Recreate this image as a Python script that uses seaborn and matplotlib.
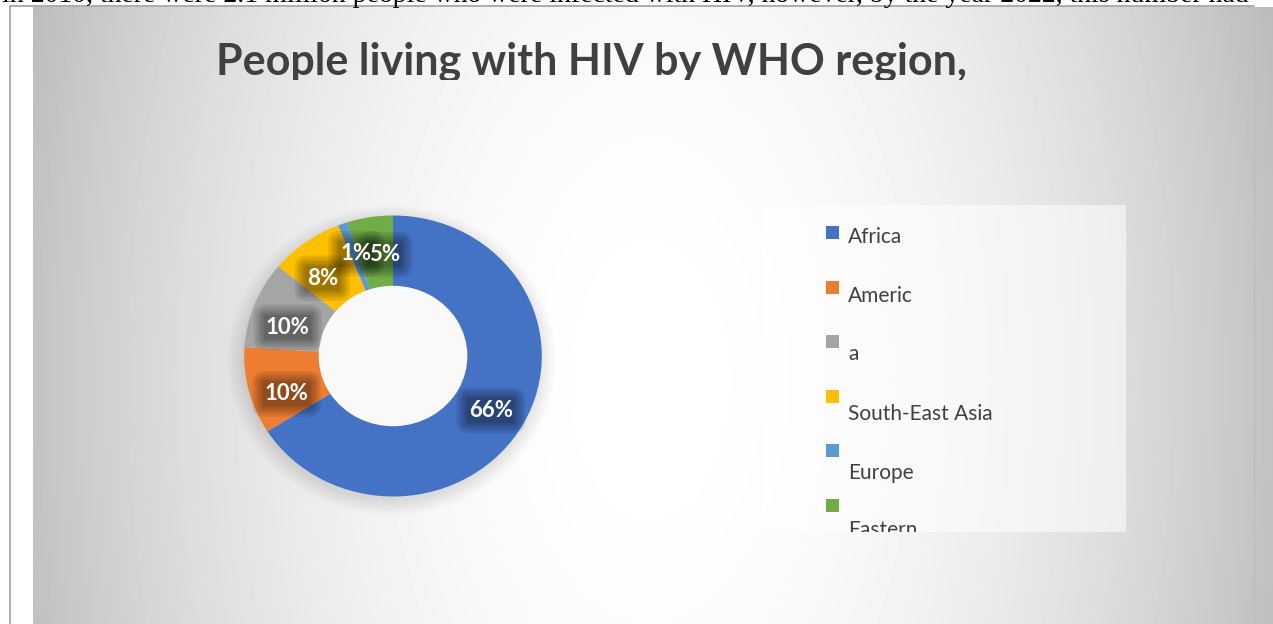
import numpy as np
import matplotlib
matplotlib.use("Agg")
import matplotlib.pyplot as plt
import seaborn as sns
from matplotlib.patches import Rectangle, Circle

# ---------------- data ----------------
regions = ["Africa", "Americas", "Western Pacific", "South-East Asia", "Europe", "Eastern Mediterranean"]
shares = [66, 10, 10, 8, 1, 5]
legend_labels = ["Africa", "Americ", "a", "South-East Asia", "Europe", "Eastern"]
colors = ["#4472C4", "#ED7D31", "#A5A5A5", "#FFC000", "#5B9BD5", "#70AD47"]
title = "People living with HIV by WHO region,"
doc_line = ("in 2010, there were 2.1 million people who were infected with HIV, "
            "however, by the year 2022, this number had")

# ---------------- layout (pixels) ----------------
W, H = 1273, 624
label_nudge_px = [(-1.4, 1.5), (3.2, 9.9), (0.0, 9.1), (-4.1, 7.1), (1.5, -3.5), (9.0, 2.5)]
legend_marker_top = [226, 281, 335, 390, 444, 499]
legend_text_baseline = [243, 302, 360, 420, 479, 536]

sns.set_theme(style="white")
plt.rcParams['font.family'] = ['Lato', 'DejaVu Sans']

fig = plt.figure(figsize=(W / 100, H / 100), dpi=100)
fig.patch.set_facecolor('white')


def px_axes(x0, y0, x1, y1):
    return fig.add_axes([x0 / W, 1 - y1 / H, (x1 - x0) / W, (y1 - y0) / H])


# background
bg = fig.add_axes([0, 0, 1, 1])
bg.set_xlim(0, W)
bg.set_ylim(H, 0)
bg.axis('off')
xx, yy = np.meshgrid(np.arange(33, W), np.arange(7, H))
r2 = ((xx - 650) / 650.0) ** 2 + ((yy - 380) / 1150.0) ** 2
g = np.clip(1 - 0.26 * r2, 0, 1)
bg.imshow(g, cmap='gray', vmin=0, vmax=1, extent=(33, W, H, 7),
          interpolation='bilinear', aspect='auto', zorder=0)
bg.plot([10, 10], [6, H], color='#a6a6a6', lw=1.3, zorder=2)
bg.plot([10, 1254], [6, 6], color='#a6a6a6', lw=1.3, zorder=2)
bg.plot([1254, 1254], [7, H], color='#bdbdbd', lw=1.0, zorder=2)
bg.text(2, 2.5, doc_line, family=['Liberation Serif'], fontsize=20,
        va='baseline', ha='left', color='black', zorder=3)

# title (clipped at bottom like the reference)
ta = px_axes(33, 7, W, 80)
ta.axis('off')
ta.text((592 - 33) / (W - 33), (80 - 74) / 73.0, title, transform=ta.transAxes,
        ha='center', va='baseline', fontsize=31, fontweight='bold',
        color='#404040', clip_on=True)

# donut
rx, ry = 148.8, 140.5
cx, cy = 393, 356
pa = px_axes(cx - 1.2 * rx, cy - 1.2 * ry, cx + 1.2 * rx, cy + 1.2 * ry)
for s in np.linspace(1.0, 1.1, 7):
    pa.add_patch(Circle((-0.01, -0.03), s, facecolor='black', alpha=0.016,
                        edgecolor='none', zorder=0))
wedges, _ = pa.pie(shares, colors=colors, startangle=90, counterclock=False,
                   radius=1, wedgeprops=dict(width=0.5, edgecolor='none'))
for w in wedges:
    w.set_zorder(2)
pa.add_patch(Circle((0, 0), 0.5, facecolor='#f9f9f9', edgecolor='none', zorder=1))
pa.set_aspect('auto')
pa.set_xlim(-1.2, 1.2)
pa.set_ylim(-1.2, 1.2)
pa.axis('off')

for w, val, (dx, dy) in zip(wedges, shares, label_nudge_px):
    th = np.deg2rad((w.theta1 + w.theta2) / 2)
    x, y = 0.76 * np.cos(th), 0.76 * np.sin(th)
    off = (dx * 0.72, -(dy + 8) * 0.72)
    txt = f"{val}%"
    for p in [0.55, 0.42, 0.3, 0.18, 0.08]:
        pa.annotate(txt, xy=(x, y), xytext=off, textcoords='offset points',
                    ha='center', va='baseline', fontsize=16, fontweight='bold',
                    color='none', zorder=3,
                    bbox=dict(boxstyle=f'round,pad={p}', facecolor='black',
                              edgecolor='none', alpha=0.09))
    pa.annotate(txt, xy=(x, y), xytext=off, textcoords='offset points',
                ha='center', va='baseline', fontsize=16, fontweight='bold',
                color='white', zorder=4)

# legend
la = px_axes(762, 205, 1126, 532)
la.set_xlim(762, 1126)
la.set_ylim(532, 205)
la.axis('off')
la.add_patch(Rectangle((762, 205), 364, 327, facecolor='white', alpha=0.55,
                       edgecolor='none', zorder=0))
for lab, col, mt, tb in zip(legend_labels, colors, legend_marker_top, legend_text_baseline):
    la.add_patch(Rectangle((826, mt), 13, 13, facecolor=col, edgecolor='none', zorder=2))
    la.text(848, tb, lab, ha='left', va='baseline', fontsize=15, color='#404040',
            clip_on=True, zorder=3)

fig.savefig("out.png", dpi=100, facecolor='white')
